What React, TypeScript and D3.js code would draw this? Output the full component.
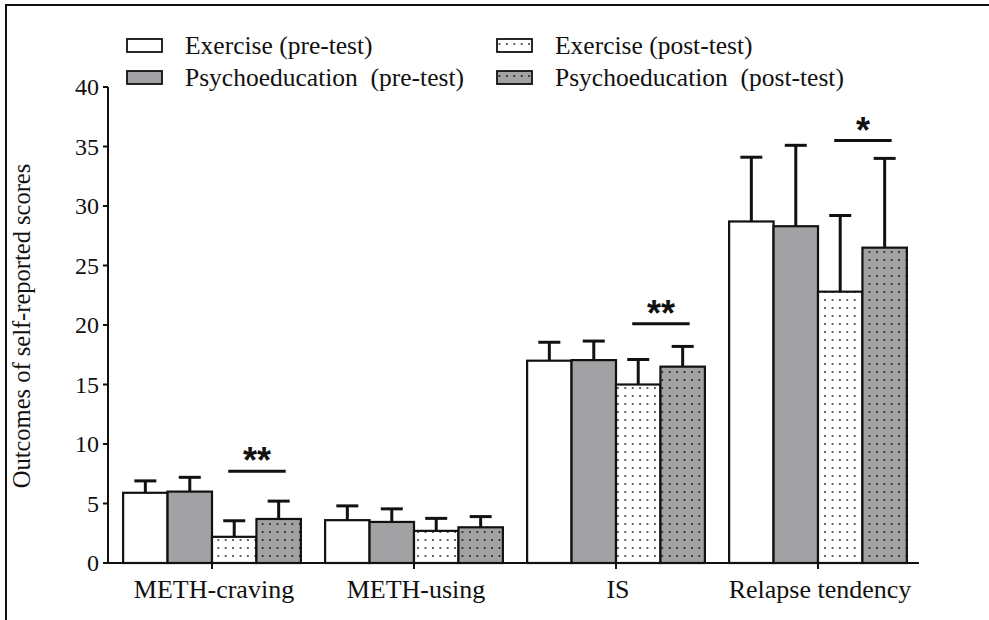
import { useMemo } from "react";
import * as d3 from "d3";

const WIDTH = 989;
const HEIGHT = 620;

const categories = ["METH-craving", "METH-using", "IS", "Relapse tendency"];
const seriesNames = [
  "Exercise (pre-test)",
  "Psychoeducation  (pre-test)",
  "Exercise (post-test)",
  "Psychoeducation  (post-test)",
];

const exercisePre = [5.9, 3.6, 17.0, 28.7];
const exercisePreSd = [1.0, 1.2, 1.55, 5.4];
const psychoPre = [6.0, 3.45, 17.05, 28.3];
const psychoPreSd = [1.2, 1.1, 1.6, 6.8];
const exercisePost = [2.2, 2.7, 15.0, 22.8];
const exercisePostSd = [1.35, 1.05, 2.1, 6.4];
const psychoPost = [3.7, 3.0, 16.5, 26.5];
const psychoPostSd = [1.5, 0.9, 1.7, 7.5];

const yTicks = [0, 5, 10, 15, 20, 25, 30, 35, 40];

// significance between post-test bars
const sigCategories = ["METH-craving", "IS", "Relapse tendency"];
const sigLevels = [7.7, 20.1, 35.5];
const sigLabels = ["**", "**", "*"];

const FILLS = ["#ffffff", "#a2a2a4", "url(#dotsWhite)", "url(#dotsGray)"];
const FONT = "'Liberation Serif', 'Times New Roman', serif";

export default function App() {
  const x = useMemo(
    () => d3.scaleBand().domain(categories).range([111, 919]).paddingInner(0.12).paddingOuter(0.06),
    []
  );
  const inner = useMemo(
    () => d3.scaleBand().domain(seriesNames).range([0, x.bandwidth()]).padding(0),
    [x]
  );
  const y = useMemo(() => d3.scaleLinear().domain([0, 40]).range([563, 87]), []);

  const values = [exercisePre, psychoPre, exercisePost, psychoPost];
  const sds = [exercisePreSd, psychoPreSd, exercisePostSd, psychoPostSd];

  const bars = categories.flatMap((c, ci) =>
    seriesNames.map((s, si) => ({
      c,
      s,
      si,
      v: values[si][ci],
      sd: sds[si][ci],
    }))
  );

  const legend = [
    { s: seriesNames[0], sx: 127, ty: 54, sy: 39 },
    { s: seriesNames[1], sx: 127, ty: 86, sy: 71 },
    { s: seriesNames[2], sx: 497, ty: 54, sy: 39 },
    { s: seriesNames[3], sx: 497, ty: 86, sy: 71 },
  ];

  return (
    <svg
      width={WIDTH}
      height={HEIGHT}
      style={{ position: "absolute", left: 0, top: 0, background: "#fff" }}
      fontFamily={FONT}
    >
      <defs>
        <pattern id="dotsWhite" width="7.4" height="8" patternUnits="userSpaceOnUse">
          <rect width="7.4" height="8" fill="#fff" />
          <circle cx="3.7" cy="4" r="0.9" fill="#222" />
        </pattern>
        <pattern id="dotsGray" width="7.4" height="8" patternUnits="userSpaceOnUse">
          <rect width="7.4" height="8" fill="#a2a2a4" />
          <circle cx="3.7" cy="4" r="0.9" fill="#111" />
        </pattern>
      </defs>

      {/* frame */}
      <path d={`M6,${HEIGHT} V5 H${WIDTH}`} fill="none" stroke="#111" strokeWidth={2} />

      {/* legend */}
      {legend.map((l, i) => (
        <g key={l.s}>
          <rect x={l.sx} y={l.sy} width={35} height={13} fill={FILLS[i]} stroke="#111" strokeWidth={1.8} />
          <text x={l.sx + 58} y={l.ty} fontSize={25.5} fill="#111" style={{ whiteSpace: "pre" }}>
            {l.s}
          </text>
        </g>
      ))}

      {/* bars */}
      {bars.map((b) => {
        const bx = (x(b.c) ?? 0) + (inner(b.s) ?? 0);
        const w = inner.bandwidth();
        const cx = bx + w / 2;
        return (
          <g key={b.c + b.s}>
            <line x1={cx} x2={cx} y1={y(b.v)} y2={y(b.v + b.sd)} stroke="#111" strokeWidth={3} />
            <line x1={cx - 11} x2={cx + 11} y1={y(b.v + b.sd)} y2={y(b.v + b.sd)} stroke="#111" strokeWidth={3} />
            <rect x={bx} y={y(b.v)} width={w} height={y(0) - y(b.v)} fill={FILLS[b.si]} stroke="#111" strokeWidth={2.2} />
          </g>
        );
      })}

      {/* significance */}
      {sigCategories.map((c, i) => {
        const x1 = (x(c) ?? 0) + (inner(seriesNames[2]) ?? 0) + inner.bandwidth() / 2 - 6;
        const x2 = (x(c) ?? 0) + (inner(seriesNames[3]) ?? 0) + inner.bandwidth() / 2 + 7;
        const ly = y(sigLevels[i]);
        return (
          <g key={c}>
            <line x1={x1} x2={x2} y1={ly} y2={ly} stroke="#111" strokeWidth={3} />
            <text
              x={(x1 + x2) / 2}
              y={ly + 2}
              textAnchor="middle"
              fontSize={36}
              fontWeight="bold"
              fontFamily="'Liberation Sans', Arial, sans-serif"
              fill="#111"
            >
              {sigLabels[i]}
            </text>
          </g>
        );
      })}

      {/* y axis */}
      <line x1={108} x2={108} y1={y(40)} y2={y(0)} stroke="#111" strokeWidth={2} />
      {yTicks.map((t) => (
        <g key={t} transform={`translate(0,${y(t)})`}>
          <line x1={103} x2={108} stroke="#111" strokeWidth={2} />
          <text x={99} dy="0.34em" textAnchor="end" fontSize={24} fill="#111">
            {t}
          </text>
        </g>
      ))}

      {/* x axis */}
      <line x1={107} x2={919} y1={y(0)} y2={y(0)} stroke="#111" strokeWidth={2} />
      {categories.map((c) => {
        const cx = (x(c) ?? 0) + x.bandwidth() / 2;
        return (
          <g key={c}>
            <line x1={cx} x2={cx} y1={y(0)} y2={y(0) + 6} stroke="#111" strokeWidth={2} />
            <text x={cx + 2} y={598} textAnchor="middle" fontSize={26} fill="#111">
              {c}
            </text>
          </g>
        );
      })}

      {/* y title */}
      <text
        transform={`translate(30,326) rotate(-90)`}
        textAnchor="middle"
        fontSize={24.5}
        fill="#111"
      >
        Outcomes of self-reported scores
      </text>
    </svg>
  );
}
